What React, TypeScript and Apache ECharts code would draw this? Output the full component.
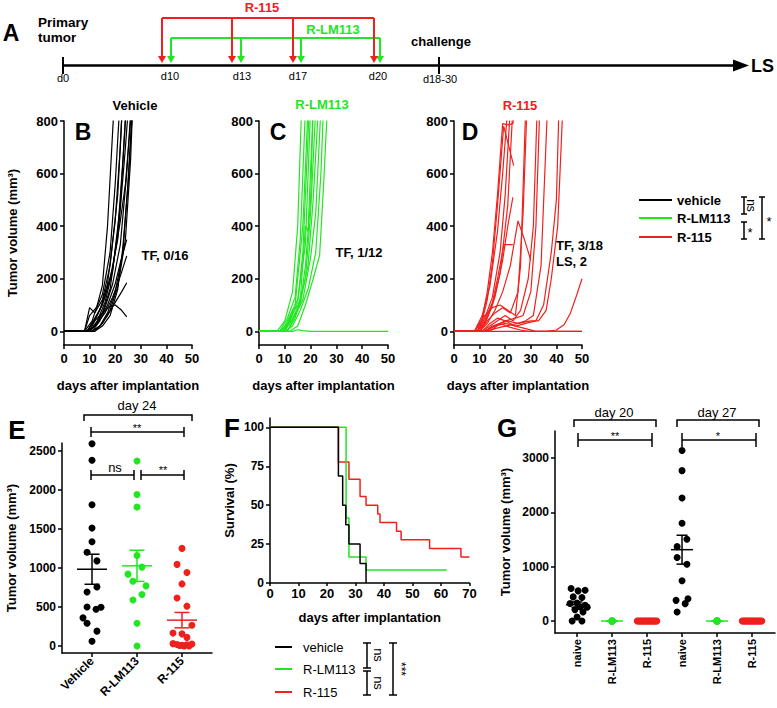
import React, { useEffect, useRef } from 'react';
import * as echarts from 'echarts';

const FONT = '"Liberation Sans", Arial, Helvetica, sans-serif';
const BLACK = '#000000';
const GREEN = '#22e622';
const RED = '#f0201c';

// ---------- Panels B-D : individual tumour growth curves [day, volume] ----------
const spagYTicks = [0, 200, 400, 600, 800];

const vehicleCurves: number[][][] = [
  [[0, 0], [8, 0], [11, 40], [13, 100], [15, 175], [17, 400], [19.5, 850]],
  [[0, 0], [8, 0], [10, 60], [13, 95], [15, 140], [18, 300], [20, 560], [22, 900]],
  [[0, 0], [9, 0], [11, 30], [14, 80], [17, 180], [20, 420], [22, 700], [23, 900]],
  [[0, 0], [8, 0], [10, 90], [12, 70], [15, 120], [18, 250], [21, 520], [23, 900]],
  [[0, 0], [9, 0], [12, 20], [15, 70], [18, 160], [21, 380], [23, 650], [24.5, 900]],
  [[0, 0], [10, 0], [13, 40], [16, 110], [19, 230], [22, 480], [24, 800], [25, 950]],
  [[0, 0], [9, 0], [12, 50], [15, 100], [18, 200], [21, 350], [24, 700], [25.5, 900]],
  [[0, 0], [10, 0], [13, 30], [16, 90], [19, 180], [22, 330], [24.5, 600], [26.5, 900]],
  [[0, 0], [11, 0], [14, 20], [17, 70], [20, 150], [23, 300], [25, 560], [27, 900]],
  [[0, 0], [12, 0], [15, 30], [18, 80], [21, 170], [24, 350], [26, 650], [27, 900]],
  [[0, 0], [10, 0], [13, 60], [16, 130], [19, 240], [22, 420], [24, 560], [26, 800], [27, 900]],
  [[0, 0], [11, 0], [14, 40], [17, 100], [20, 180], [22, 260], [24.5, 349]],
  [[0, 0], [10, 0], [13, 30], [16, 70], [19, 130], [22, 210], [24.5, 287]],
  [[0, 0], [11, 0], [14, 20], [17, 60], [20, 110], [22.5, 150], [24.5, 185]],
  [[0, 0], [9, 0], [12, 40], [15, 70], [18, 95], [20, 100], [22.5, 80], [24.5, 55]],
  [[0, 0], [12, 0], [15, 20], [18, 60], [21, 160], [23, 320], [25, 560], [26.5, 800], [27, 900]],
];

const lm113Curves: number[][][] = [
  [[0, 0], [7, 0], [10, 40], [13, 150], [15, 400], [16.5, 850]],
  [[0, 0], [8, 0], [11, 50], [14, 130], [16, 350], [18, 850]],
  [[0, 0], [8, 0], [11, 30], [14, 100], [17, 400], [19, 850]],
  [[0, 0], [9, 0], [12, 40], [15, 110], [17, 300], [19.5, 850]],
  [[0, 0], [9, 0], [12, 60], [15, 120], [18, 330], [20, 850]],
  [[0, 0], [10, 0], [13, 50], [16, 100], [18, 250], [20, 500], [21, 850]],
  [[0, 0], [9, 0], [12, 30], [15, 90], [18, 200], [20, 450], [22, 850]],
  [[0, 0], [10, 0], [13, 70], [16, 110], [19, 250], [21, 500], [23, 850]],
  [[0, 0], [11, 0], [14, 60], [17, 120], [20, 280], [22, 450], [24, 850]],
  [[0, 0], [10, 0], [13, 20], [16, 80], [19, 160], [22, 300], [24, 600], [25, 850]],
  [[0, 0], [12, 0], [15, 20], [18, 100], [21, 200], [23.5, 290], [25, 550], [26.5, 850]],
  [[0, 0], [11, 0], [14, 50], [16, 120], [18, 400], [19, 380], [21, 850]],
  [[0, 0], [13, 0], [15, 6], [17, 3], [20, 0], [50, 0]],
];

const r115Curves: number[][][] = [
  [[0, 0], [8, 0], [11, 50], [13, 150], [15, 300], [17, 520], [19, 790], [21, 785], [23, 790], [24, 850]],
  [[0, 0], [8, 0], [11, 40], [13, 120], [15, 260], [17, 480], [19.4, 780], [21, 720], [23.3, 630]],
  [[0, 0], [8, 0], [11, 60], [14, 170], [17, 380], [19, 600], [21, 850]],
  [[0, 0], [9, 0], [12, 50], [15, 130], [18, 300], [20, 520], [22, 850]],
  [[0, 0], [9, 0], [12, 30], [15, 100], [18, 220], [21, 480], [23, 850]],
  [[0, 0], [9, 0], [12, 40], [15, 110], [17, 200], [19.5, 330], [21, 330], [23, 330]],
  [[0, 0], [10, 0], [13, 50], [16, 130], [19, 270], [21, 400], [23, 510]],
  [[0, 0], [10, 0], [13, 30], [16, 80], [19, 150], [22, 250], [25, 420], [27.5, 350], [30, 270]],
  [[0, 0], [9, 0], [12, 60], [15, 90], [18, 100], [21, 80], [24, 60], [26, 250], [28, 850]],
  [[0, 0], [10, 0], [13, 40], [16, 70], [19, 90], [22, 70], [25, 150], [27, 450], [28.5, 850]],
  [[0, 0], [11, 0], [14, 20], [17, 40], [20, 60], [23, 40], [26, 80], [29, 200], [31, 400], [32.5, 850]],
  [[0, 0], [11, 0], [14, 30], [17, 50], [20, 40], [24, 50], [27, 60], [30, 150], [32, 400], [33.5, 850]],
  [[0, 0], [12, 0], [15, 20], [18, 30], [21, 40], [25, 30], [28, 40], [31, 60], [34, 250], [36.5, 850]],
  [[0, 0], [12, 0], [16, 20], [20, 30], [24, 20], [28, 30], [32, 40], [35, 100], [38, 300], [40, 500], [41, 850]],
  [[0, 0], [12, 0], [16, 10], [20, 20], [25, 30], [30, 40], [33, 40], [36, 80], [38, 200], [40.5, 400], [42.5, 850]],
  [[0, 0], [12, 0], [16, 20], [20, 40], [24, 20], [28, 10], [32, 0], [50, 0]],
  [[0, 0], [36, 0], [40, 5], [43, 25], [45.5, 70], [48, 140], [50, 200]],
  [[0, 0], [14, 0], [18, 30], [22, 15], [26, 5], [29, 0], [50, 0]],
];

// ---------- Panel E : day 24 tumour volumes ----------
const eCategories = ['Vehicle', 'R-LM113', 'R-115'];
const eYTicks = [0, 500, 1000, 1500, 2000, 2500];
const eVehicle = [2590, 2380, 1810, 1510, 1335, 1200, 1090, 756, 692, 500, 470, 495, 360, 290, 190, 60];
const eVehicleJitter = [0, 0, 0, 0, 0, -0.11, 0.11, 0.11, -0.11, -0.11, 0.09, 0.2, -0.2, -0.11, 0.11, 0];
const eLm113 = [2370, 1940, 1780, 1160, 1010, 920, 830, 770, 660, 590, 290, 0];
const eLm113Jitter = [0, 0, 0, 0, 0.11, -0.2, -0.09, 0.2, 0.11, -0.09, 0, 0];
const eR115 = [1250, 1045, 940, 795, 615, 510, 265, 165, 155, 110, 30, 20, 10, 15, 25, 5, 0, 0];
const eR115Jitter = [0, -0.11, 0.11, 0, -0.11, 0.11, 0.22, -0.2, 0, 0.11, -0.2, -0.11, 0, 0.11, 0.22, -0.05, 0.05, 0.16];

// ---------- Panel F : survival (Kaplan-Meier steps) ----------
const fYTicks = [0, 25, 50, 75, 100];
const fVehicle = [[0, 100], [24, 68.75], [25.5, 50], [26.6, 37.5], [27.7, 25], [31.6, 12.5], [33.7, 0]];
const fLm113 = [[0, 100], [26.7, 41.7], [27.7, 16.7], [33.7, 8.3], [62, 8.3]];
const fR115 = [[0, 100], [24, 77.8], [27.7, 66.7], [31.6, 55.6], [33.7, 50], [37.8, 44.4], [38.6, 38.9], [44.4, 33.3], [46, 27.8], [56, 22.2], [67, 16.7], [70, 16.7]];

// ---------- Panel G : re-challenge tumour volumes ----------
const gCategories = ['naive', 'R-LM113', 'R-115', 'naive', 'R-LM113', 'R-115'];
const gYTicks = [0, 1000, 2000, 3000];
const gNaive20 = [600, 555, 568, 444, 432, 321, 330, 290, 260, 255, 210, 167, 74, 0, 0];
const gNaive20Jitter = [-0.17, 0.03, 0.23, -0.11, 0.14, -0.2, 0, 0.23, 0.09, 0.29, -0.06, 0.17, 0, -0.14, 0.14];
const gLm113_20 = [0, 0, 0, 0, 0, 0, 0, 0, 0, 0, 0, 0];
const gLm113_20Jitter = [0, 0, 0, 0, 0, 0, 0, 0, 0, 0, 0, 0];
const gR115_20 = [0, 0, 0, 0, 0, 0, 0, 0, 0, 0, 0, 0, 0, 0, 0, 0, 0, 0];
const gR115_20Jitter = [-0.28, -0.25, -0.21, -0.18, -0.15, -0.11, -0.08, -0.05, -0.02, 0.02, 0.05, 0.08, 0.11, 0.15, 0.18, 0.21, 0.25, 0.28];
const gNaive27 = [3140, 2770, 2265, 1800, 1505, 1370, 1170, 1045, 740, 410, 380, 320, 165];
const gNaive27Jitter = [0, 0, 0, 0, 0.14, -0.14, -0.14, 0.14, 0, 0.17, -0.17, 0.09, -0.14];
const gLm113_27 = [0, 0, 0, 0, 0, 0, 0, 0, 0, 0, 0, 0];
const gLm113_27Jitter = [0, 0, 0, 0, 0, 0, 0, 0, 0, 0, 0, 0];
const gR115_27 = [0, 0, 0, 0, 0, 0, 0, 0, 0, 0, 0, 0, 0, 0, 0, 0, 0, 0];
const gR115_27Jitter = [-0.28, -0.25, -0.21, -0.18, -0.15, -0.11, -0.08, -0.05, -0.02, 0.02, 0.05, 0.08, 0.11, 0.15, 0.18, 0.21, 0.25, 0.28];

// ---------- helpers ----------
function meanSem(v: number[]) {
  const n = v.length;
  const m = v.reduce((a, b) => a + b, 0) / n;
  const sd = Math.sqrt(v.reduce((a, b) => a + (b - m) * (b - m), 0) / (n - 1));
  return [m, sd / Math.sqrt(n)];
}

const plain = (v: number) => String(v);
const lab = (size: number, extra: any = {}) => ({
  color: BLACK, fontWeight: 'bold', fontSize: size, fontFamily: FONT, ...extra,
});
const axLine = { show: true, onZero: false, lineStyle: { color: BLACK, width: 1.5 } };
const tick = (extra: any = {}) => ({ show: true, length: 4, lineStyle: { color: BLACK, width: 1.5 }, ...extra });

function txt(text: string, x: number, y: number, o: any = {}) {
  const size = o.size ?? 13;
  const weight = o.weight ?? 'bold';
  const align = o.align ?? 'center';
  return {
    type: 'text', x, y, rotation: o.rotation ?? 0, silent: true,
    style: {
      text, fill: o.color ?? BLACK, font: `${weight} ${size}px ${FONT}`,
      textAlign: align, textVerticalAlign: 'middle', align, verticalAlign: 'middle',
    },
  };
}
function ln(x1: number, y1: number, x2: number, y2: number, color = BLACK, w = 1.5) {
  return { type: 'line', silent: true, shape: { x1, y1, x2, y2 }, style: { stroke: color, lineWidth: w } };
}
function pl(points: number[][], color = BLACK, w = 1.5) {
  return { type: 'polyline', silent: true, shape: { points }, style: { stroke: color, lineWidth: w, fill: 'none' } };
}
function tri(points: number[][], color: string) {
  return { type: 'polygon', silent: true, shape: { points }, style: { fill: color } };
}
function vBracket(x: number, y1: number, y2: number, serif: number) {
  return [ln(x, y1, x, y2), ln(x - serif, y1, x + serif, y1), ln(x - serif, y2, x + serif, y2)];
}
function hBracket(x1: number, x2: number, y: number, h: number) {
  return [ln(x1, y, x2, y), ln(x1, y - h, x1, y + h), ln(x2, y - h, x2, y + h)];
}

function spag(curves: number[][][], gi: number, color: string) {
  return curves.map((c) => ({
    type: 'line', xAxisIndex: gi, yAxisIndex: gi, data: c, showSymbol: false, symbol: 'none',
    lineStyle: { color, width: 1.2 }, silent: true, clip: true, z: 2,
  }));
}
function dots(gi: number, cat: number, values: number[], jitter: number[], color: string) {
  return {
    type: 'scatter', xAxisIndex: gi, yAxisIndex: gi, symbolSize: 7, silent: true, z: 3,
    itemStyle: { color, opacity: 1 },
    data: values.map((v, i) => [cat + jitter[i], v]),
  };
}
function meanSemSeries(gi: number, cat: number, values: number[], color: string, halfW: number, capW: number) {
  const [m, s] = meanSem(values);
  return {
    type: 'custom', xAxisIndex: gi, yAxisIndex: gi, silent: true, z: 4,
    data: [[cat, m, s]],
    renderItem: (_p: any, api: any) => {
      const x = api.value(0), mm = api.value(1), ss = api.value(2);
      const c = api.coord([x, mm]);
      const t = api.coord([x, mm + ss]);
      const b = api.coord([x, mm - ss]);
      const st = { stroke: color, lineWidth: 1.5 };
      return {
        type: 'group',
        children: [
          { type: 'line', shape: { x1: c[0] - halfW, y1: c[1], x2: c[0] + halfW, y2: c[1] }, style: st },
          { type: 'line', shape: { x1: c[0], y1: t[1], x2: c[0], y2: b[1] }, style: st },
          { type: 'line', shape: { x1: c[0] - capW, y1: t[1], x2: c[0] + capW, y2: t[1] }, style: st },
          { type: 'line', shape: { x1: c[0] - capW, y1: b[1], x2: c[0] + capW, y2: b[1] }, style: st },
        ],
      };
    },
  };
}
function survival(data: number[][], color: string) {
  return {
    type: 'line', xAxisIndex: 4, yAxisIndex: 4, step: 'end', data, showSymbol: false, symbol: 'none',
    lineStyle: { color, width: 1.5 }, silent: true,
  };
}

function buildGraphic() {
  const el: any[] = [];
  // ---- Panel A timeline ----
  el.push(txt('A', 11, 33, { size: 23 }));
  el.push(txt('Primary', 38, 22, { size: 13.5, align: 'left' }));
  el.push(txt('tumor', 38, 37, { size: 13.5, align: 'left' }));
  el.push(ln(63, 65.5, 735, 65.5, BLACK, 2.5));
  el.push(tri([[733, 59.5], [749, 65.5], [733, 71.5]], BLACK));
  el.push(txt('LS', 751, 66, { size: 18, align: 'left' }));
  el.push(ln(63, 57, 63, 74, BLACK, 2));
  el.push(ln(439, 57, 439, 74, BLACK, 2));
  el.push(txt('challenge', 441, 41, { size: 13 }));
  el.push(txt('d0', 63, 78, { size: 11, weight: 'normal' }));
  el.push(txt('d10', 170, 76, { size: 11, weight: 'normal' }));
  el.push(txt('d13', 242, 76, { size: 11, weight: 'normal' }));
  el.push(txt('d17', 298, 76, { size: 11, weight: 'normal' }));
  el.push(txt('d20', 378, 76, { size: 11, weight: 'normal' }));
  el.push(txt('d18-30', 440, 79, { size: 11, weight: 'normal' }));
  // green schedule
  const gx = [171, 241, 301, 380];
  el.push(ln(171, 38, 380, 38, GREEN, 2));
  gx.forEach((x) => { el.push(ln(x, 38, x, 57, GREEN, 2)); el.push(tri([[x - 4, 56], [x + 4, 56], [x, 63]], GREEN)); });
  el.push(txt('R-LM113', 333, 29, { size: 13, color: GREEN }));
  // red schedule
  const rx = [162, 232, 293, 374];
  el.push(ln(162, 18, 374, 18, RED, 2));
  rx.forEach((x) => { el.push(ln(x, 18, x, 57, RED, 2)); el.push(tri([[x - 4, 56], [x + 4, 56], [x, 63]], RED)); });
  el.push(txt('R-115', 262, 7, { size: 13, color: RED }));

  // ---- Panels B-D labels ----
  el.push(txt('Vehicle', 135, 105, { size: 13 }));
  el.push(txt('R-LM113', 322, 104, { size: 13, color: GREEN }));
  el.push(txt('R-115', 520, 105, { size: 13, color: RED }));
  el.push(txt('B', 83, 132, { size: 23 }));
  el.push(txt('C', 278, 132, { size: 23 }));
  el.push(txt('D', 470, 132, { size: 23 }));
  el.push(txt('TF, 0/16', 165, 255, { size: 13 }));
  el.push(txt('TF, 1/12', 359, 252, { size: 13 }));
  el.push(txt('TF, 3/18', 556, 245, { size: 13, align: 'left' }));
  el.push(txt('LS, 2', 556, 261, { size: 13, align: 'left' }));
  // legend right of D
  el.push(ln(639, 200, 672, 200, BLACK, 2));
  el.push(ln(639, 218, 672, 218, GREEN, 2));
  el.push(ln(639, 237, 672, 237, RED, 2));
  el.push(txt('vehicle', 677, 200, { size: 13, align: 'left' }));
  el.push(txt('R-LM113', 677, 218, { size: 13, align: 'left' }));
  el.push(txt('R-115', 677, 237, { size: 13, align: 'left' }));
  el.push(...vBracket(744, 197, 214, 3));
  el.push(...vBracket(744, 222, 239, 3));
  el.push(...vBracket(762, 197, 239, 3));
  el.push(txt('ns', 751, 205.5, { size: 12, weight: 'normal', rotation: -Math.PI / 2 }));
  el.push(txt('*', 750, 232, { size: 13, weight: 'normal' }));
  el.push(txt('*', 769, 221, { size: 13, weight: 'normal' }));

  // ---- Panel E annotations ----
  el.push(txt('E', 17, 430, { size: 26 }));
  el.push(txt('day 24', 137, 405, { size: 13, weight: 'normal' }));
  el.push(pl([[84, 421], [84, 415], [192, 415], [192, 421]]));
  el.push(...hBracket(91, 184, 432, 5));
  el.push(txt('**', 137, 428, { size: 11, weight: 'normal' }));
  el.push(...hBracket(91, 134, 475, 5));
  el.push(...hBracket(141, 184, 475, 5));
  el.push(txt('ns', 115, 467, { size: 13, weight: 'normal' }));
  el.push(txt('**', 163, 470, { size: 11, weight: 'normal' }));

  // ---- Panel F ----
  el.push(txt('F', 232, 428, { size: 26 }));
  el.push(ln(275, 647, 292, 647, BLACK, 2));
  el.push(ln(275, 669, 292, 669, GREEN, 2));
  el.push(ln(275, 692, 292, 692, RED, 2));
  el.push(txt('vehicle', 303, 647, { size: 13, weight: 'normal', align: 'left' }));
  el.push(txt('R-LM113', 303, 669, { size: 13, weight: 'normal', align: 'left' }));
  el.push(txt('R-115', 303, 692, { size: 13, weight: 'normal', align: 'left' }));
  el.push(...vBracket(367, 643, 668, 4));
  el.push(...vBracket(367, 671, 695, 4));
  el.push(...vBracket(393, 643, 695, 4));
  el.push(txt('ns', 378, 655, { size: 13, weight: 'normal', rotation: -Math.PI / 2 }));
  el.push(txt('ns', 378, 683, { size: 13, weight: 'normal', rotation: -Math.PI / 2 }));
  el.push(txt('***', 401, 669, { size: 12, weight: 'normal', rotation: -Math.PI / 2 }));

  // ---- Panel G annotations ----
  el.push(txt('G', 507, 428, { size: 26 }));
  el.push(txt('day 20', 614, 412, { size: 13, weight: 'normal' }));
  el.push(pl([[574, 427], [574, 420], [656, 420], [656, 427]]));
  el.push(...hBracket(578, 652, 440, 7));
  el.push(txt('**', 615, 436, { size: 11, weight: 'normal' }));
  el.push(txt('day 27', 717, 412, { size: 13, weight: 'normal' }));
  el.push(pl([[677, 427], [677, 420], [759, 420], [759, 427]]));
  el.push(...hBracket(682, 756, 440, 7));
  el.push(txt('*', 718, 436, { size: 11, weight: 'normal' }));
  return el;
}

function buildOption() {
  const grid = [
    { left: 64, top: 121, width: 128, height: 224 },
    { left: 259, top: 121, width: 129, height: 224 },
    { left: 454, top: 121, width: 128, height: 224 },
    { left: 62, top: 443, width: 150, height: 210 },
    { left: 270, top: 418, width: 199.5, height: 165 },
    { left: 555, top: 431, width: 220, height: 202 },
  ];
  const spagX = (gi: number) => ({
    type: 'value', gridIndex: gi, min: 0, max: 50, interval: 10,
    axisLine: axLine, axisTick: tick(), axisLabel: lab(13, { margin: 7 }), splitLine: { show: false },
    name: 'days after implantation', nameLocation: 'middle', nameGap: 34, nameTextStyle: lab(13),
  });
  const spagY = (gi: number, withName: boolean) => ({
    type: 'value', gridIndex: gi, min: -52, max: 800,
    axisLine: axLine, axisTick: tick({ customValues: spagYTicks }),
    axisLabel: lab(13, { margin: 6, customValues: spagYTicks, formatter: plain }), splitLine: { show: false },
    ...(withName ? { name: 'Tumor volume (mm³)', nameLocation: 'middle', nameGap: 45, nameTextStyle: lab(13) } : {}),
  });
  const xAxis = [
    spagX(0), spagX(1), spagX(2),
    {
      type: 'value', gridIndex: 3, min: -0.667, max: 2.667,
      axisLine: axLine, axisTick: tick({ customValues: [0, 1, 2] }),
      axisLabel: lab(12, { customValues: [0, 1, 2], rotate: 45, margin: 6, formatter: (v: number) => eCategories[Math.round(v)] }),
      splitLine: { show: false },
    },
    {
      type: 'value', gridIndex: 4, min: 0, max: 70, interval: 10,
      axisLine: axLine, axisTick: tick({ length: 3 }), axisLabel: lab(13, { margin: 4 }), splitLine: { show: false },
      name: 'days after implantation', nameLocation: 'middle', nameGap: 28, nameTextStyle: lab(13),
    },
    {
      type: 'value', gridIndex: 5, min: -0.63, max: 5.657,
      axisLine: axLine, axisTick: tick({ customValues: [0, 1, 2, 3, 4, 5] }),
      axisLabel: lab(11, { customValues: [0, 1, 2, 3, 4, 5], rotate: 90, margin: 6, formatter: (v: number) => gCategories[Math.round(v)] }),
      splitLine: { show: false },
    },
  ];
  const yAxis = [
    spagY(0, true), spagY(1, false), spagY(2, false),
    {
      type: 'value', gridIndex: 3, min: -90, max: 2600,
      axisLine: axLine, axisTick: tick({ customValues: eYTicks }),
      axisLabel: lab(12, { margin: 6, customValues: eYTicks, formatter: plain }), splitLine: { show: false },
      name: 'Tumor volume (mm³)', nameLocation: 'middle', nameGap: 44, nameTextStyle: lab(13),
    },
    {
      type: 'value', gridIndex: 4, min: 0, max: 106,
      axisLine: axLine, axisTick: tick({ customValues: fYTicks }),
      axisLabel: lab(12, { margin: 6, customValues: fYTicks, formatter: plain }), splitLine: { show: false },
      name: 'Survival (%)', nameLocation: 'middle', nameGap: 34, nameTextStyle: lab(13),
    },
    {
      type: 'value', gridIndex: 5, min: -221, max: 3500,
      axisLine: axLine, axisTick: tick({ customValues: gYTicks }),
      axisLabel: lab(12, { margin: 6, customValues: gYTicks, formatter: plain }), splitLine: { show: false },
      name: 'Tumor volume (mm³)', nameLocation: 'middle', nameGap: 43, nameTextStyle: lab(13),
    },
  ];
  const series: any[] = [
    ...spag(vehicleCurves, 0, BLACK),
    ...spag(lm113Curves, 1, GREEN),
    ...spag(r115Curves, 2, RED),
    dots(3, 0, eVehicle, eVehicleJitter, BLACK),
    dots(3, 1, eLm113, eLm113Jitter, GREEN),
    dots(3, 2, eR115, eR115Jitter, RED),
    meanSemSeries(3, 0, eVehicle, BLACK, 15, 7.5),
    meanSemSeries(3, 1, eLm113, GREEN, 15, 7.5),
    meanSemSeries(3, 2, eR115, RED, 15, 7.5),
    survival(fR115, RED),
    survival(fLm113, GREEN),
    survival(fVehicle, BLACK),
    dots(5, 0, gNaive20, gNaive20Jitter, BLACK),
    dots(5, 1, gLm113_20, gLm113_20Jitter, GREEN),
    dots(5, 2, gR115_20, gR115_20Jitter, RED),
    dots(5, 3, gNaive27, gNaive27Jitter, BLACK),
    dots(5, 4, gLm113_27, gLm113_27Jitter, GREEN),
    dots(5, 5, gR115_27, gR115_27Jitter, RED),
    meanSemSeries(5, 0, gNaive20, BLACK, 11, 5.5),
    meanSemSeries(5, 1, gLm113_20, GREEN, 11, 5.5),
    meanSemSeries(5, 2, gR115_20, RED, 11, 5.5),
    meanSemSeries(5, 3, gNaive27, BLACK, 11, 5.5),
    meanSemSeries(5, 4, gLm113_27, GREEN, 11, 5.5),
    meanSemSeries(5, 5, gR115_27, RED, 11, 5.5),
  ];
  return {
    animation: false,
    backgroundColor: '#ffffff',
    textStyle: { fontFamily: FONT },
    grid, xAxis, yAxis, series,
    graphic: { elements: buildGraphic() },
  };
}

export default function App() {
  const ref = useRef<HTMLDivElement>(null);
  useEffect(() => {
    document.body.style.margin = '0';
    if (!ref.current) return;
    const chart = echarts.init(ref.current, undefined, { renderer: 'svg' });
    chart.setOption(buildOption() as any);
    return () => chart.dispose();
  }, []);
  return <div ref={ref} style={{ width: 777, height: 708 }} />;
}
